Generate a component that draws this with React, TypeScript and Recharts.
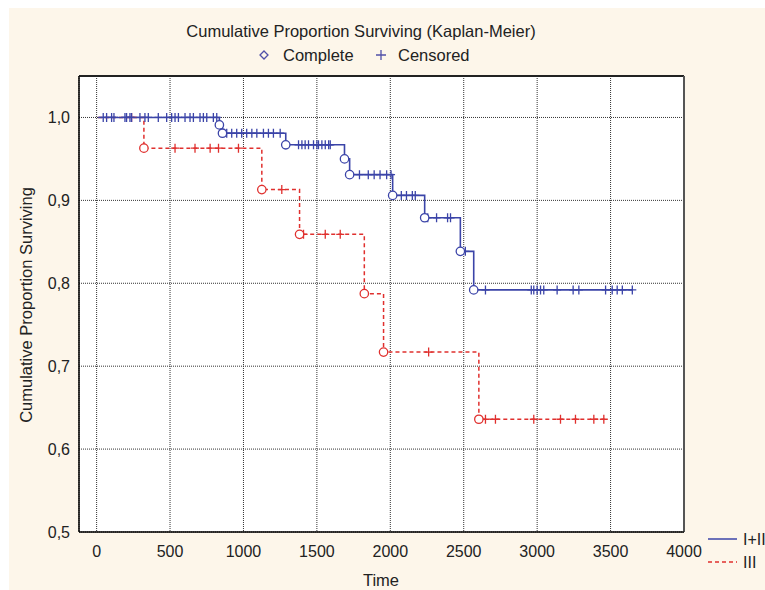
import React from "react";
import {
  CartesianGrid,
  ComposedChart,
  Line,
  ReferenceArea,
  ReferenceLine,
  Scatter,
  XAxis,
  YAxis,
} from "recharts";

// Time axis ticks and survival axis ticks
const xTicks = [0, 500, 1000, 1500, 2000, 2500, 3000, 3500, 4000];
const yTicks = [0.5, 0.6, 0.7, 0.8, 0.9, 1.0];

const startTime = 10;

// Group I+II : event (complete) times and survival right after each event
const aEventTimes = [836, 857, 1288, 1688, 1723, 2016, 2234, 2477, 2568];
const aEventSurv = [0.991, 0.981, 0.967, 0.95, 0.931, 0.906, 0.879, 0.8385, 0.792];
const aEndTime = 3650;
const aCensorTimes = [
  45, 68, 102, 118, 193, 204, 227, 238, 295, 329, 352, 420, 477, 511, 534, 557,
  602, 636, 659, 704, 727, 750, 795, 818, 886, 920, 954, 988, 1022, 1057, 1091,
  1136, 1170, 1204, 1250, 1375, 1398, 1420, 1443, 1477, 1500, 1511, 1534, 1557,
  1580, 1591, 1790, 1850, 1890, 1930, 1975, 2005, 2075, 2110, 2150, 2170, 2255,
  2315, 2390, 2410, 2511, 2648, 2960, 2977, 3000, 3023, 3045, 3136, 3245, 3284,
  3466, 3511, 3545, 3580, 3648,
];

// Group III
const bEventTimes = [322, 1125, 1382, 1823, 1954, 2603];
const bEventSurv = [0.963, 0.913, 0.859, 0.7875, 0.717, 0.636];
const bEndTime = 3460;
const bCensorTimes = [
  238, 534, 670, 773, 830, 966, 1261, 1409, 1557, 1659, 2261, 2648, 2716, 2977,
  3159, 3261, 3386, 3454,
];

const BLUE = "#3b44a8";
const RED = "#e0302e";
const FONT = "'Liberation Sans', Arial, sans-serif";

function stepSeries(times: number[], surv: number[], end: number) {
  const pts = [{ t: startTime, s: 1 }];
  times.forEach((t, i) => pts.push({ t, s: surv[i] }));
  pts.push({ t: end, s: surv[surv.length - 1] });
  return pts;
}

function survivalAt(times: number[], surv: number[], t: number) {
  let s = 1;
  times.forEach((et, i) => {
    if (et <= t) s = surv[i];
  });
  return s;
}

const aLine = stepSeries(aEventTimes, aEventSurv, aEndTime);
const bLine = stepSeries(bEventTimes, bEventSurv, bEndTime);
const aEvents = aEventTimes.map((t, i) => ({ t, s: aEventSurv[i] }));
const bEvents = bEventTimes.map((t, i) => ({ t, s: bEventSurv[i] }));
const aCensored = aCensorTimes.map((t) => ({ t, s: survivalAt(aEventTimes, aEventSurv, t) }));
const bCensored = bCensorTimes.map((t) => ({ t, s: survivalAt(bEventTimes, bEventSurv, t) }));

const circleShape = (color: string) => (p: any) =>
  <circle cx={p.cx} cy={p.cy} r={4.2} fill="#fff" stroke={color} strokeWidth={1.3} />;

const crossShape = (color: string) => (p: any) => (
  <path
    d={`M${p.cx - 4},${p.cy}H${p.cx + 4}M${p.cx},${p.cy - 4.5}V${p.cy + 4.5}`}
    stroke={color}
    strokeWidth={1.3}
    fill="none"
  />
);

const tickStyle = { fontSize: 16, fill: "#222", fontFamily: FONT };

export default function App() {
  return (
    <div style={{ position: "absolute", left: 0, top: 0, width: 765, height: 590, background: "#fff" }}>
      <div style={{ position: "absolute", left: 9, top: 8, right: 0, bottom: 0, background: "#fdf6ea" }} />
      <div style={{ position: "absolute", left: 0, top: 0 }}>
        <ComposedChart width={765} height={590} margin={{ top: 76, right: 81, bottom: 18, left: 19 }}>
          <CartesianGrid fill="#fff" stroke="#333" strokeDasharray="1 1" />
          <XAxis
            type="number"
            dataKey="t"
            domain={[-120, 4000]}
            ticks={xTicks}
            allowDataOverflow
            tickLine={false}
            axisLine={{ stroke: "#000" }}
            tick={tickStyle}
            tickMargin={8}
            height={40}
          />
          <YAxis
            type="number"
            dataKey="s"
            domain={[0.5, 1.05]}
            ticks={yTicks}
            allowDataOverflow
            tickLine={false}
            axisLine={{ stroke: "#000" }}
            tick={tickStyle}
            tickMargin={3}
            width={60}
            tickFormatter={(v: number) => v.toFixed(1).replace(".", ",")}
          />
          <ReferenceArea x1={-120} x2={4000} y1={0.5} y2={1.05} fill="none" fillOpacity={0} stroke="#000" />
          <ReferenceLine y={1.05} stroke="#222" strokeWidth={2} />
          <ReferenceLine x={4000} stroke="#555" strokeWidth={2} />
          <Line
            data={bLine}
            dataKey="s"
            type="stepAfter"
            stroke={RED}
            strokeWidth={1.5}
            strokeDasharray="4 3"
            dot={false}
            isAnimationActive={false}
          />
          <Line
            data={aLine}
            dataKey="s"
            type="stepAfter"
            stroke={BLUE}
            strokeWidth={1.6}
            dot={false}
            isAnimationActive={false}
          />
          <Scatter data={bCensored} dataKey="s" shape={crossShape(RED)} isAnimationActive={false} />
          <Scatter data={aCensored} dataKey="s" shape={crossShape(BLUE)} isAnimationActive={false} />
          <Scatter data={bEvents} dataKey="s" shape={circleShape(RED)} isAnimationActive={false} />
          <Scatter data={aEvents} dataKey="s" shape={circleShape(BLUE)} isAnimationActive={false} />
        </ComposedChart>
      </div>
      <svg
        width={765}
        height={590}
        style={{ position: "absolute", left: 0, top: 0, pointerEvents: "none" }}
        fontFamily={FONT}
      >
        <text x={361} y={37} textAnchor="middle" fontSize={16.5} fill="#222">
          Cumulative Proportion Surviving (Kaplan-Meier)
        </text>
        <polygon points="264,51 268,55 264,59 260,55" fill="none" stroke="#5050a8" strokeWidth={1.3} />
        <text x={283} y={61} fontSize={16.5} fill="#222">Complete</text>
        <path d="M376,55H386M381,50V60" stroke="#5050a8" strokeWidth={1.3} />
        <text x={398} y={61} fontSize={16.5} fill="#222">Censored</text>
        <text transform="translate(32,305) rotate(-90)" textAnchor="middle" fontSize={16.5} fill="#222">
          Cumulative Proportion Surviving
        </text>
        <text x={381} y={586} textAnchor="middle" fontSize={16.5} fill="#222">Time</text>
        <line x1={708} y1={539} x2={737} y2={539} stroke={BLUE} strokeWidth={1.5} />
        <text x={743} y={545} fontSize={16} fill="#222">I+II</text>
        <line x1={708} y1={562} x2={737} y2={562} stroke={RED} strokeWidth={1.5} strokeDasharray="4 3" />
        <text x={743} y={568} fontSize={16} fill="#222">III</text>
      </svg>
    </div>
  );
}
